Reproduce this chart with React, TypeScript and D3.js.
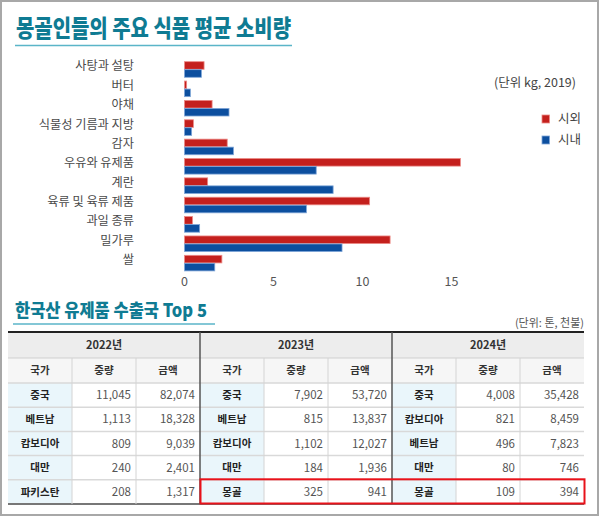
import * as d3 from 'd3';

// ---- chart data (kg per person, 2019) ----
const categories = [
  '사탕과 설탕', '버터', '야채', '식물성 기름과 지방', '감자', '우유와 유제품',
  '계란', '육류 및 육류 제품', '과일 종류', '밀가루', '쌀',
];
const rural = [1.1, 0.12, 1.55, 0.5, 2.4, 15.5, 1.3, 10.4, 0.45, 11.55, 2.1];
const urban = [0.95, 0.33, 2.5, 0.4, 2.75, 7.4, 8.35, 6.85, 0.85, 8.85, 1.7];
const seriesNames = ['시외', '시내'];
const xTicks = [0, 5, 10, 15];

// ---- table data (tons, thousand USD) ----
const years = ['2022년', '2023년', '2024년'];
const subHeaders = ['국가', '중량', '금액'];
const countries2022 = ['중국', '베트남', '캄보디아', '대만', '파키스탄'];
const weight2022 = [11045, 1113, 809, 240, 208];
const amount2022 = [82074, 18328, 9039, 2401, 1317];
const countries2023 = ['중국', '베트남', '캄보디아', '대만', '몽골'];
const weight2023 = [7902, 815, 1102, 184, 325];
const amount2023 = [53720, 13837, 12027, 1936, 941];
const countries2024 = ['중국', '캄보디아', '베트남', '대만', '몽골'];
const weight2024 = [4008, 821, 496, 80, 109];
const amount2024 = [35428, 8459, 7823, 746, 394];

const RED = '#c4201d';
const BLUE = '#0c4f9f';
const TEAL = '#0f7b93';
const FONT = "'Noto Sans CJK KR', 'Noto Sans', sans-serif";

export default function App() {
  const W = 600;
  const H = 517;

  const y = d3.scaleBand<string>().domain(categories).range([60, 273]).paddingInner(0.174).paddingOuter(0.087);
  const ys = d3.scaleBand<string>().domain(seriesNames).range([0, y.bandwidth()]);
  const x = d3.scaleLinear().domain([0, 15]).range([184.5, 451.5]);
  const series = [rural, urban];
  const colors = [RED, BLUE];
  const strokes = ['#ec8a86', '#7fa6d8'];

  const fmt = d3.format(',');
  const tableYears = [
    { c: countries2022, w: weight2022, a: amount2022 },
    { c: countries2023, w: weight2023, a: amount2023 },
    { c: countries2024, w: weight2024, a: amount2024 },
  ];
  const col = d3.scaleBand<number>().domain(d3.range(9)).range([8, 584]);
  const rows = d3.scaleBand<number>().domain(d3.range(5)).range([383, 504]);
  const yearRow = { top: 332, bottom: 358 };
  const headRow = { top: 358, bottom: 383 };

  return (
    <svg width={W} height={H} style={{ position: 'absolute', left: 0, top: 0, fontFamily: FONT }}>
      <rect x={0} y={0} width={W} height={H} fill="#fff" />
      <rect x={1} y={1} width={W - 3} height={H - 3} fill="none" stroke="#a8a8a8" strokeWidth={2} />

      {/* title */}
      <text x={16} y={37} fontSize={23.5} fontWeight={900} fill={TEAL} textLength={275} lengthAdjust="spacingAndGlyphs">
        몽골인들의 주요 식품 평균 소비량
      </text>
      <line x1={15} x2={292} y1={45.5} y2={45.5} stroke="#5ab5c8" strokeWidth={1.5} />

      {/* bars */}
      {categories.map((cat, i) => (
        <g key={cat}>
          <text x={134} y={(y(cat) ?? 0) + y.bandwidth() / 2 - 3.5} dy="0.35em" textAnchor="end" fontSize={12.2} fill="#4a4a4a">
            {cat}
          </text>
          {series.map((vals, s) => (
            <rect
              key={s}
              x={x(0)}
              y={(y(cat) ?? 0) + (ys(seriesNames[s]) ?? 0)}
              width={x(vals[i]) - x(0)}
              height={ys.bandwidth() - 0.4}
              fill={colors[s]}
              stroke={strokes[s]}
              strokeWidth={0.8}
            />
          ))}
        </g>
      ))}
      {xTicks.map((t) => (
        <text key={t} x={x(t)} y={286} textAnchor="middle" fontSize={12.5} fill="#555">
          {t}
        </text>
      ))}

      {/* unit + legend */}
      <text x={576} y={87} textAnchor="end" fontSize={12.5} fill="#444" textLength={82} lengthAdjust="spacingAndGlyphs">
        (단위 kg, 2019)
      </text>
      {seriesNames.map((n, s) => (
        <g key={n} transform={`translate(542,${115 + s * 21})`}>
          <rect x={0} y={0} width={7.5} height={8} fill={colors[s]} stroke={strokes[s]} strokeWidth={0.8} />
          <text x={16} y={4} dy="0.35em" fontSize={12.5} fill="#444">
            {n}
          </text>
        </g>
      ))}

      {/* table title */}
      <text x={15} y={317} fontSize={18} fontWeight={900} fill={TEAL} textLength={192} lengthAdjust="spacingAndGlyphs">
        한국산 유제품 수출국 Top 5
      </text>
      <line x1={13} x2={215} y1={324} y2={324} stroke="#5ab5c8" strokeWidth={1.5} />
      <text x={584} y={327} textAnchor="end" fontSize={11} fill="#555">
        (단위: 톤, 천불)
      </text>

      {/* table backgrounds */}
      <rect x={8} y={yearRow.top} width={576} height={yearRow.bottom - yearRow.top} fill="#ededed" />
      <rect x={8} y={headRow.top} width={576} height={headRow.bottom - headRow.top} fill="#f6f6f6" />
      {tableYears.map((_, g) => (
        <rect
          key={g}
          x={col(g * 3) ?? 0}
          y={rows(0) ?? 0}
          width={col.bandwidth()}
          height={rows.bandwidth() * 5}
          fill="#eaf6fb"
        />
      ))}

      {/* row lines */}
      <line x1={8} x2={584} y1={yearRow.bottom} y2={yearRow.bottom} stroke="#cfcfcf" strokeWidth={1} />
      {d3.range(6).map((r) => (
        <line
          key={r}
          x1={8}
          x2={584}
          y1={(rows(0) ?? 0) + r * rows.step()}
          y2={(rows(0) ?? 0) + r * rows.step()}
          stroke={r === 5 ? '#777' : '#d9d9d9'}
          strokeWidth={r === 5 ? 2 : 1.5}
        />
      ))}
      <line x1={8} x2={584} y1={yearRow.top} y2={yearRow.top} stroke="#222" strokeWidth={2} />

      {/* column lines */}
      {d3.range(1, 9).map((c) => {
        const major = c % 3 === 0;
        return (
          <line
            key={c}
            x1={col(c) ?? 0}
            x2={col(c) ?? 0}
            y1={major ? yearRow.top : headRow.top}
            y2={504}
            stroke={major ? '#555' : '#d4d4d4'}
            strokeWidth={major ? 1.5 : 1}
          />
        );
      })}

      {/* headers */}
      {years.map((yr, g) => (
        <text
          key={yr}
          x={(col(g * 3) ?? 0) + col.step() * 1.5}
          y={(yearRow.top + yearRow.bottom) / 2}
          dy="0.35em"
          textAnchor="middle"
          fontSize={11}
          fontWeight={700}
          fill="#333"
        >
          {yr}
        </text>
      ))}
      {d3.range(9).map((c) => (
        <text
          key={c}
          x={(col(c) ?? 0) + col.bandwidth() / 2}
          y={(headRow.top + headRow.bottom) / 2}
          dy="0.35em"
          textAnchor="middle"
          fontSize={10.5}
          fontWeight={700}
          fill="#333"
        >
          {subHeaders[c % 3]}
        </text>
      ))}

      {/* cells */}
      {tableYears.map((t, g) =>
        t.c.map((name, r) => {
          const cy = (rows(r) ?? 0) + rows.bandwidth() / 2;
          return (
            <g key={`${g}-${r}`}>
              <text x={(col(g * 3) ?? 0) + col.bandwidth() / 2} y={cy} dy="0.35em" textAnchor="middle" fontSize={10.5} fontWeight={700} fill="#222">
                {name}
              </text>
              <text x={(col(g * 3 + 1) ?? 0) + col.bandwidth() - 5} y={cy} dy="0.35em" textAnchor="end" fontSize={11.5} fill="#555">
                {fmt(t.w[r])}
              </text>
              <text x={(col(g * 3 + 2) ?? 0) + col.bandwidth() - 5} y={cy} dy="0.35em" textAnchor="end" fontSize={11.5} fill="#555">
                {fmt(t.a[r])}
              </text>
            </g>
          );
        })
      )}

      {/* highlight for Mongolia */}
      <rect
        x={(col(3) ?? 0) + 0.5}
        y={(rows(4) ?? 0) - 0.5}
        width={(col(8) ?? 0) + col.bandwidth() - (col(3) ?? 0)}
        height={rows.bandwidth()}
        fill="none"
        stroke="#e8121a"
        strokeWidth={2}
      />
    </svg>
  );
}
